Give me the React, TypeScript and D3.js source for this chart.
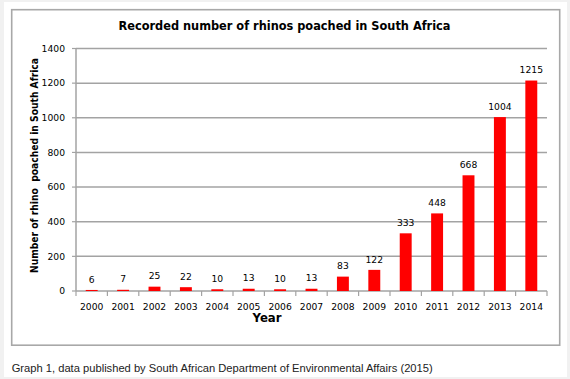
import React from "react";
import * as d3 from "d3";

const years = ["2000","2001","2002","2003","2004","2005","2006","2007","2008","2009","2010","2011","2012","2013","2014"];
const poached = [6, 7, 25, 22, 10, 13, 10, 13, 83, 122, 333, 448, 668, 1004, 1215];
const yTicks = [0, 200, 400, 600, 800, 1000, 1200, 1400];
const title = "Recorded number of rhinos poached in South Africa";
const yTitle = "Number of rhino  poached in South Africa";
const xTitle = "Year";
const caption = "Graph 1, data published by South African Department of Environmental Affairs (2015)";

const W = 570, H = 379;
const L = 76, R = 547, T = 48.5, B = 291;
const font = "'DejaVu Sans', Verdana, sans-serif";
const grid = "#a3a3a3";

export default function App() {
  const x = d3.scaleBand<string>().domain(years).range([L, R]).paddingInner(0.62).paddingOuter(0.31);
  const xb = d3.scaleBand<string>().domain(years).range([L, R]);
  const y = d3.scaleLinear().domain([0, 1400]).range([B, T]);
  return (
    <svg width={W} height={H} style={{ position: "absolute", left: 0, top: 0 }} xmlns="http://www.w3.org/2000/svg">
      <rect x={0} y={0} width={W} height={H} fill="#f1f1f1" />
      <rect x={4} y={2} width={563} height={375} fill="#ffffff" />
      <rect x={11.7} y={9.7} width={548} height={335.5} fill="#fff" stroke="#a8a8a8" strokeWidth={1.6} />
      <text x={284.5} y={30} textAnchor="middle" fontFamily={font} fontWeight="bold" fontSize={12} textLength={332} lengthAdjust="spacingAndGlyphs" fill="#000">{title}</text>
      {yTicks.map((t) => (
        <g key={t}>
          {t > 0 && <line x1={L} x2={R} y1={y(t)} y2={y(t)} stroke={grid} strokeWidth={1.5} />}
          <line x1={L - 4} x2={L} y1={y(t)} y2={y(t)} stroke={grid} strokeWidth={1.2} />
          <text x={65} y={y(t) + 3.3} textAnchor="end" fontFamily={font} fontSize={9.2} fill="#000">{t}</text>
        </g>
      ))}
      <line x1={L} x2={L} y1={T} y2={B} stroke={grid} strokeWidth={1.5} />
      <line x1={L} x2={R} y1={B} y2={B} stroke={grid} strokeWidth={1.5} />
      {years.map((yr, i) => (
        <line key={"t" + yr} x1={xb(yr)!} x2={xb(yr)!} y1={B} y2={B + 5} stroke={grid} strokeWidth={1.2} />
      ))}
      <line x1={R} x2={R} y1={B} y2={B + 5} stroke={grid} strokeWidth={1.2} />
      {years.map((yr, i) => (
        <g key={yr}>
          <rect x={x(yr)!} y={y(poached[i])} width={x.bandwidth()} height={B - y(poached[i])} fill="#ff0000" />
          <text x={x(yr)! + x.bandwidth() / 2} y={y(poached[i]) - 7.3} textAnchor="middle" fontFamily={font} fontSize={9.2} fill="#000">{poached[i]}</text>
          <text x={xb(yr)! + xb.bandwidth() / 2} y={310} textAnchor="middle" fontFamily={font} fontSize={9.2} fill="#000">{yr}</text>
        </g>
      ))}
      <text x={267} y={321.5} textAnchor="middle" fontFamily={font} fontWeight="bold" fontSize={11.5} textLength={29} lengthAdjust="spacingAndGlyphs" fill="#000">{xTitle}</text>
      <text transform="translate(37.5,165.5) rotate(-90)" textAnchor="middle" fontFamily={font} fontWeight="bold" fontSize={10.5} textLength={215} lengthAdjust="spacingAndGlyphs" fill="#000" style={{ whiteSpace: "pre" }}>{yTitle}</text>
      <text x={11.7} y={371.7} fontFamily="'Liberation Sans', Arial, sans-serif" fontSize={11.3} textLength={421} lengthAdjust="spacingAndGlyphs" fill="#222">{caption}</text>
    </svg>
  );
}
